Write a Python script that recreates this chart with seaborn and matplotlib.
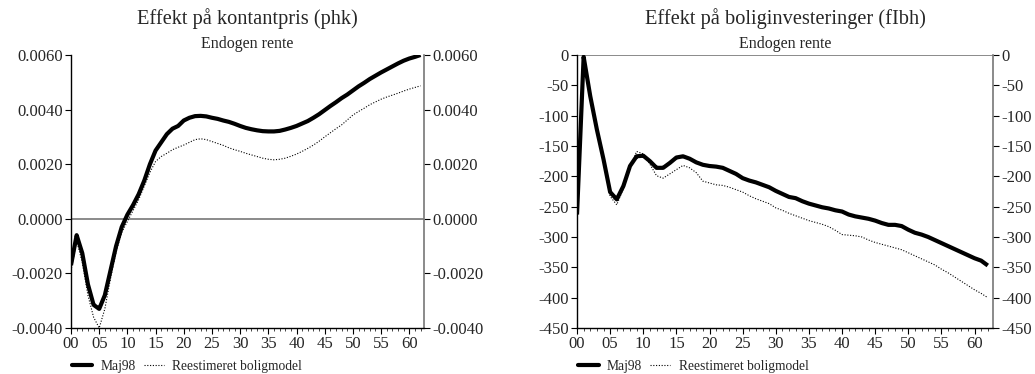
import matplotlib
matplotlib.use("Agg")
import matplotlib.pyplot as plt
from matplotlib.ticker import MultipleLocator, FuncFormatter
import seaborn as sns
import pandas as pd

# data: periods 0..62
periods = list(range(63))

phk_maj98 = [-0.0017, -0.0006, -0.00126, -0.0024, -0.00315, -0.0033, -0.0028, -0.0019, -0.0010, -0.0003,
             0.00015, 0.0005, 0.0009, 0.0014, 0.0020, 0.0025, 0.0028, 0.0031, 0.0033, 0.0034,
             0.0036, 0.0037, 0.00376, 0.00377, 0.00375, 0.0037, 0.00366, 0.0036, 0.00355, 0.00348,
             0.0034, 0.00333, 0.00328, 0.00324, 0.00321, 0.0032, 0.0032, 0.00322, 0.00327, 0.00333,
             0.0034, 0.00349, 0.00358, 0.0037, 0.00383, 0.00398, 0.00413, 0.00427, 0.00442, 0.00455,
             0.0047, 0.00485, 0.00498, 0.00512, 0.00524, 0.00536, 0.00547, 0.00558, 0.00569, 0.00579,
             0.00587, 0.00593, 0.0060]
phk_reest = [-0.0019, -0.0008, -0.0016, -0.0028, -0.0036, -0.0040, -0.0033, -0.0022, -0.0012, -0.0005,
             -0.0001, 0.0003, 0.0007, 0.0012, 0.0017, 0.0021, 0.00228, 0.0024, 0.00253, 0.00262,
             0.0027, 0.0028, 0.0029, 0.00293, 0.0029, 0.00283, 0.00276, 0.00269, 0.0026, 0.00253,
             0.00247, 0.0024, 0.00234, 0.00228, 0.00222, 0.00218, 0.00216, 0.00218, 0.00222, 0.00229,
             0.00237, 0.00247, 0.00258, 0.0027, 0.00284, 0.003, 0.00315, 0.0033, 0.00344, 0.00362,
             0.0038, 0.00393, 0.00405, 0.00418, 0.00428, 0.00438, 0.00446, 0.00453, 0.0046, 0.00468,
             0.00475, 0.00481, 0.00487]

fibh_maj98 = [-263, -3, -68, -123, -172, -226, -238, -216, -183, -167,
              -166, -175, -186, -186, -178, -169, -167, -171, -177, -181,
              -183, -184, -186, -191, -196, -203, -207, -210, -214, -218,
              -224, -229, -234, -236, -241, -245, -248, -251, -253, -256,
              -258, -263, -266, -268, -270, -273, -277, -280, -280, -282,
              -288, -293, -296, -300, -305, -310, -315, -320, -325, -330,
              -335, -339, -347]
fibh_reest = [-265, -5, -70, -125, -175, -233, -247, -220, -185, -159,
              -163, -180, -199, -203, -196, -189, -182, -186, -194, -208,
              -211, -214, -215, -218, -222, -226, -232, -237, -241, -245,
              -252, -256, -261, -265, -269, -273, -276, -279, -283, -289,
              -296, -297, -298, -300, -305, -309, -312, -315, -318, -321,
              -326, -331, -336, -341, -346, -353, -359, -366, -373, -380,
              -387, -393, -400]

series_names = ["Maj98", "Reestimeret boligmodel"]

sns.set_style("ticks")
plt.rcParams['font.family'] = ['Liberation Serif', 'DejaVu Serif']
plt.rcParams['axes.unicode_minus'] = False

fig = plt.figure(figsize=(10.35, 3.74), dpi=100)
ax1 = fig.add_axes([0.0686, 0.123, 0.341, 0.730])
ax2 = fig.add_axes([0.5575, 0.123, 0.402, 0.730])


def long_df(a, b):
    return pd.DataFrame({
        "periode": periods * 2,
        "value": a + b,
        "serie": [series_names[0]] * len(a) + [series_names[1]] * len(b),
    })


def draw(ax, df, title, ylim, ystep, yfmt, xmax):
    sns.lineplot(data=df, x="periode", y="value", hue="serie", style="serie",
                 palette=["black", "black"], dashes=[(1, 0), (1, 1.5)],
                 size="serie", sizes=[3.0, 0.8], ax=ax, legend=False)
    ax.axhline(0, color="#777777", lw=1.2, zorder=0)
    ax.set_xlim(0, xmax)
    ax.set_ylim(*ylim)
    ax.set_xlabel("")
    ax.set_ylabel("")
    ax.xaxis.set_major_locator(MultipleLocator(5))
    ax.xaxis.set_minor_locator(MultipleLocator(1))
    ax.xaxis.set_major_formatter(FuncFormatter(lambda v, p: f"{int(round(v)):02d}"))
    ax.yaxis.set_major_locator(MultipleLocator(ystep))
    ax.yaxis.set_major_formatter(FuncFormatter(yfmt))
    ax.tick_params(axis="both", direction="out", labelsize=12, length=4, width=0.8, color="black")
    ax.tick_params(axis="x", which="minor", length=2.5, width=0.6)
    ax.tick_params(axis="x", pad=1.5)
    ax.tick_params(axis="y", right=True, labelright=True, pad=2)
    for side in ["left", "bottom"]:
        ax.spines[side].set_color("black")
        ax.spines[side].set_linewidth(1.0)
    ax.spines["right"].set_visible(True)
    ax.spines["right"].set_color("#777777")
    ax.spines["right"].set_linewidth(1.2)
    ax.spines["top"].set_visible(False)
    ax.text(0.5, 1.135, title, transform=ax.transAxes, ha="center", va="center", fontsize=14.7)
    ax.text(0.5, 1.042, "Endogen rente", transform=ax.transAxes, ha="center", va="center", fontsize=11.5)
    ax.set_facecolor("white")


draw(ax1, long_df(phk_maj98, phk_reest), "Effekt på kontantpris (phk)",
     (-0.004, 0.006), 0.002, lambda v, p: f"{v:.4f}", 62.6)
draw(ax2, long_df(fibh_maj98, fibh_reest), "Effekt på boliginvesteringer (fIbh)",
     (-450, 0), 50, lambda v, p: f"{int(round(v))}", 62.8)

# legends under each panel
for ax in (ax1, ax2):
    h1, = ax.plot([], [], color="black", lw=3.0)
    h2, = ax.plot([], [], color="black", lw=0.8, ls=(0, (1, 1.5)))
    ax.legend([h1, h2], series_names, loc="upper left", bbox_to_anchor=(0.003, -0.118),
              ncol=2, frameon=False, fontsize=9.75, handlelength=1.5, handletextpad=0.6,
              columnspacing=0.6, borderaxespad=0, borderpad=0)

fig.savefig("out.png", dpi=100, facecolor="white")
